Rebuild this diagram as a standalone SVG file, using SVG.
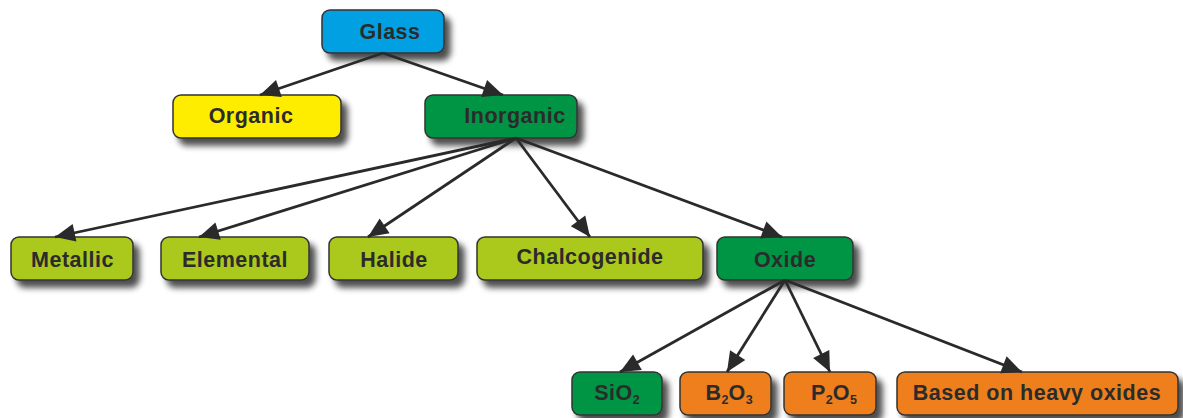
<svg xmlns="http://www.w3.org/2000/svg" width="1183" height="418" viewBox="0 0 1183 418">
<defs>
<filter id="sh" x="-20%" y="-30%" width="150%" height="190%">
<feGaussianBlur in="SourceAlpha" stdDeviation="3.2"/>
<feOffset dx="6" dy="7" result="b"/>
<feComponentTransfer><feFuncA type="linear" slope="0.7"/></feComponentTransfer>
<feMerge><feMergeNode/><feMergeNode in="SourceGraphic"/></feMerge>
</filter>
<marker id="ah" markerWidth="22" markerHeight="20" refX="20" refY="9" orient="auto" markerUnits="userSpaceOnUse" overflow="visible">
<path d="M0,0 L20,9 L0,18 Z" fill="#2a2a2a"/>
</marker>
</defs>
<style>
.box{stroke:#333;stroke-width:1.5;filter:url(#sh)}
.blue{fill:#00a0e3}
.yel{fill:#ffed00}
.dg{fill:#009444}
.lg{fill:#abc81f}
.or{fill:#ee7f1b}
text{font-family:"Liberation Sans",Arial,sans-serif;font-weight:bold;font-size:21.5px;fill:#2b2b2b;letter-spacing:0.5px;text-anchor:middle}
.sub{font-size:12.5px;letter-spacing:0}
.c{stroke:#2a2a2a;stroke-width:2.8;fill:none;marker-end:url(#ah)}
</style>
<g id="glass"><rect class="box blue" x="322" y="10" width="122" height="43" rx="8"/><text x="390" y="38.5">Glass</text></g>
<g id="organic"><rect class="box yel" x="173" y="95" width="168" height="43" rx="8"/><text x="251" y="123">Organic</text></g>
<g id="inorganic"><rect class="box dg" x="425" y="95" width="152" height="43" rx="8"/><text x="515" y="123">Inorganic</text></g>
<g id="metallic"><rect class="box lg" x="11" y="237" width="122" height="43" rx="8"/><text x="72.5" y="267">Metallic</text></g>
<g id="elemental"><rect class="box lg" x="161" y="237" width="148" height="43" rx="8"/><text x="235" y="267">Elemental</text></g>
<g id="halide"><rect class="box lg" x="329" y="237" width="129" height="43" rx="8"/><text x="394" y="267">Halide</text></g>
<g id="chalcogenide"><rect class="box lg" x="477" y="237" width="226" height="43" rx="8"/><text x="590" y="264">Chalcogenide</text></g>
<g id="oxide"><rect class="box dg" x="717" y="237" width="136" height="43" rx="8"/><text x="785" y="267">Oxide</text></g>
<g id="sio2"><rect class="box dg" x="572" y="372" width="90" height="43" rx="8"/><text x="617" y="400">SiO<tspan class="sub" dy="4">2</tspan></text></g>
<g id="b2o3"><rect class="box or" x="680" y="372" width="91" height="43" rx="8"/><text x="729" y="400">B<tspan class="sub" dy="4">2</tspan><tspan dy="-4">O</tspan><tspan class="sub" dy="4">3</tspan></text></g>
<g id="p2o5"><rect class="box or" x="784" y="372" width="92" height="43" rx="8"/><text x="834" y="400">P<tspan class="sub" dy="4">2</tspan><tspan dy="-4">O</tspan><tspan class="sub" dy="4">5</tspan></text></g>
<g id="heavy"><rect class="box or" x="897" y="372" width="281" height="43" rx="8"/><text x="1037" y="400">Based on heavy oxides</text></g>
<g id="connectors">
<line class="c" x1="383" y1="53" x2="260" y2="95"/>
<line class="c" x1="383" y1="53" x2="503" y2="95"/>
<line class="c" x1="516" y1="138" x2="55" y2="237"/>
<line class="c" x1="516" y1="138" x2="199" y2="237"/>
<line class="c" x1="516" y1="138" x2="368" y2="237"/>
<line class="c" x1="516" y1="138" x2="590" y2="237"/>
<line class="c" x1="516" y1="138" x2="782" y2="237"/>
<line class="c" x1="785" y1="280" x2="620" y2="372"/>
<line class="c" x1="785" y1="280" x2="727" y2="372"/>
<line class="c" x1="785" y1="280" x2="830" y2="372"/>
<line class="c" x1="785" y1="280" x2="1022" y2="372"/>
</g>
</svg>
